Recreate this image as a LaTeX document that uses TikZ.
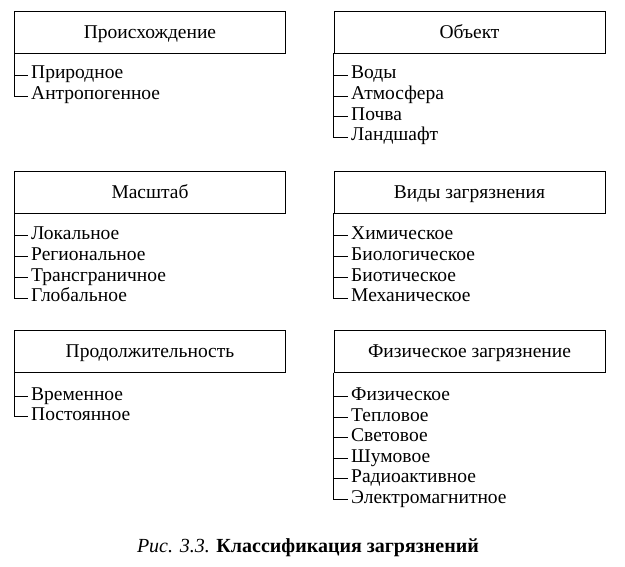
\documentclass[tikz,border=0pt]{standalone}
\usepackage{fontspec}
\setmainfont{Liberation Serif}
\usetikzlibrary{positioning}

\begin{document}
\begin{tikzpicture}[x=1pt, y=-1pt,
    kat/.style={draw, line width=0.9pt, minimum width=271pt, minimum height=42pt, text height=12.5pt, text depth=0pt, font=\fontsize{19.5}{22}\selectfont},
    punkt/.style={anchor=base west, inner xsep=3pt, inner ysep=0pt, text height=8pt, text depth=0pt, font=\fontsize{19.5}{22}\selectfont},
    vetka/.style={line width=0.9pt}]
        \useasboundingbox (0,0) rectangle (625,567);
        % Заголовки
        \node[kat] (proish) at (150,32) {Происхождение};
        \node[kat] (obekt) at (469.5,32) {Объект};
        \node[kat] (masht) at (150,192) {Масштаб};
        \node[kat] (vidy) at (469.5,192) {Виды загрязнения};
        \node[kat] (prod) at (150,351.5) {Продолжительность};
        \node[kat] (fiz) at (469.5,351.5) {Физическое загрязнение};
        % Пункты
        \node[punkt] (proish1) at (28,79) {Природное};
        \node[punkt] (proish2) at (28,100) {Антропогенное};
        \node[punkt] (obekt1) at (348,79) {Воды};
        \node[punkt] (obekt2) at (348,100) {Атмосфера};
        \node[punkt] (obekt3) at (348,120.5) {Почва};
        \node[punkt] (obekt4) at (348,141) {Ландшафт};
        \node[punkt] (masht1) at (28,239.5) {Локальное};
        \node[punkt] (masht2) at (28,260.5) {Региональное};
        \node[punkt] (masht3) at (28,281.5) {Трансграничное};
        \node[punkt] (masht4) at (28,302) {Глобальное};
        \node[punkt] (vidy1) at (348,239.5) {Химическое};
        \node[punkt] (vidy2) at (348,260.5) {Биологическое};
        \node[punkt] (vidy3) at (348,281.5) {Биотическое};
        \node[punkt] (vidy4) at (348,302) {Механическое};
        \node[punkt] (prod1) at (28,400) {Временное};
        \node[punkt] (prod2) at (28,420.5) {Постоянное};
        \node[punkt] (fiz1) at (348,400) {Физическое};
        \node[punkt] (fiz2) at (348,421) {Тепловое};
        \node[punkt] (fiz3) at (348,441.5) {Световое};
        \node[punkt] (fiz4) at (348,462) {Шумовое};
        \node[punkt] (fiz5) at (348,482.5) {Радиоактивное};
        \node[punkt] (fiz6) at (348,503) {Электромагнитное};
        % Ветки
        \draw[vetka] (proish.south west) |- (proish1.west);
        \draw[vetka] (proish.south west) |- (proish2.west);
        \draw[vetka] (obekt.south west) |- (obekt1.west);
        \draw[vetka] (obekt.south west) |- (obekt2.west);
        \draw[vetka] (obekt.south west) |- (obekt3.west);
        \draw[vetka] (obekt.south west) |- (obekt4.west);
        \draw[vetka] (masht.south west) |- (masht1.west);
        \draw[vetka] (masht.south west) |- (masht2.west);
        \draw[vetka] (masht.south west) |- (masht3.west);
        \draw[vetka] (masht.south west) |- (masht4.west);
        \draw[vetka] (vidy.south west) |- (vidy1.west);
        \draw[vetka] (vidy.south west) |- (vidy2.west);
        \draw[vetka] (vidy.south west) |- (vidy3.west);
        \draw[vetka] (vidy.south west) |- (vidy4.west);
        \draw[vetka] (prod.south west) |- (prod1.west);
        \draw[vetka] (prod.south west) |- (prod2.west);
        \draw[vetka] (fiz.south west) |- (fiz1.west);
        \draw[vetka] (fiz.south west) |- (fiz2.west);
        \draw[vetka] (fiz.south west) |- (fiz3.west);
        \draw[vetka] (fiz.south west) |- (fiz4.west);
        \draw[vetka] (fiz.south west) |- (fiz5.west);
        \draw[vetka] (fiz.south west) |- (fiz6.west);
        % Подпись
        \node[font=\fontsize{20}{22}\selectfont] (podpis) at (308,548) {\textit{Рис. 3.3.} \textbf{Классификация загрязнений}};
\end{tikzpicture}
\end{document}
